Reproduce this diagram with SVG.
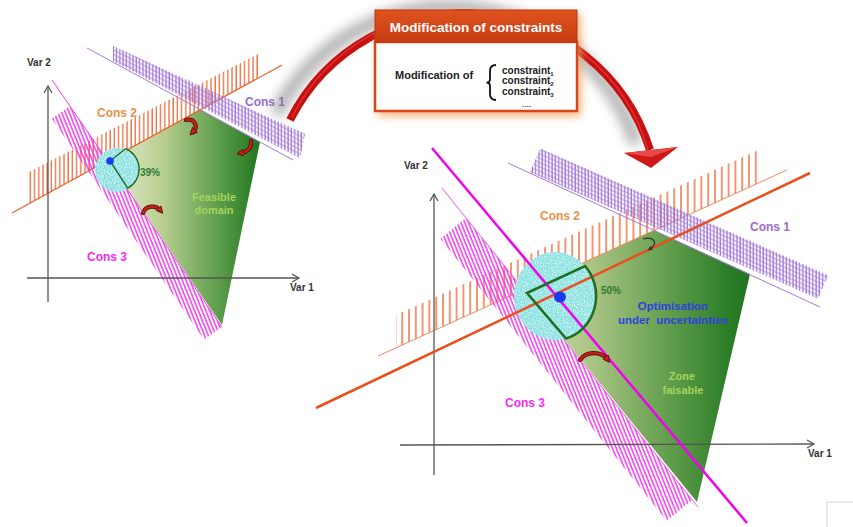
<svg xmlns="http://www.w3.org/2000/svg" width="853" height="527" viewBox="0 0 853 527">
<style>
  text { font-family: "Liberation Sans", Arial, sans-serif; font-weight: bold; }
  .axis { stroke: #555; stroke-width: 1.3; fill: none; }
  .lab { font-size: 10px; fill: #333; }
  .cons1 { fill: #9a6ccc; font-size: 12px; }
  .cons2 { fill: #e8904a; font-size: 12px; }
  .cons3 { fill: #f22cf2; font-size: 12px; }
  .pct { fill: #2e7d32; font-size: 10px; }
  .feas { fill: #a4d45c; font-size: 11px; }
  .sector { fill: none; stroke: #1f6e22; }
  .dot { fill: #1a3cf0; }
  .circ { fill: #84e1e1; }
  .redarr { fill: none; stroke: #c0201a; stroke-width: 2.8; stroke-linecap: round; }
  .redout { fill: none; stroke: #4a0a0a; stroke-width: 4.2; stroke-linecap: round; }
</style>
<defs>
  <pattern id="hOrL" patternUnits="userSpaceOnUse" width="4.2" height="10"><line x1="1" y1="0" x2="1" y2="10" stroke="#ee6a3a" stroke-width="1.3"/></pattern>
  <pattern id="hOrR" patternUnits="userSpaceOnUse" width="6.8" height="10"><line x1="1" y1="0" x2="1" y2="10" stroke="#ee6a3a" stroke-width="1.4"/></pattern>
  <pattern id="hPink" patternUnits="userSpaceOnUse" width="3.5" height="10" patternTransform="rotate(-22)"><line x1="1" y1="0" x2="1" y2="10" stroke="#f030f0" stroke-width="1.4"/></pattern>
  <pattern id="hPurV" patternUnits="userSpaceOnUse" width="3.3" height="10"><line x1="1" y1="0" x2="1" y2="10" stroke="#9a6cd2" stroke-width="1.2"/></pattern>
  <pattern id="hPurL" patternUnits="userSpaceOnUse" width="10" height="4" patternTransform="rotate(27)"><line x1="0" y1="1" x2="10" y2="1" stroke="#a57ddb" stroke-width="0.9"/></pattern>
  <pattern id="hPurR" patternUnits="userSpaceOnUse" width="10" height="4" patternTransform="rotate(24)"><line x1="0" y1="1" x2="10" y2="1" stroke="#a57ddb" stroke-width="0.9"/></pattern>
  <linearGradient id="gL" gradientUnits="userSpaceOnUse" x1="110" y1="0" x2="262" y2="0">
    <stop offset="0" stop-color="#e6edd2"/>
    <stop offset="0.35" stop-color="#b7ce8f"/>
    <stop offset="0.72" stop-color="#5c9c4a"/>
    <stop offset="1" stop-color="#1d741d"/>
  </linearGradient>
  <linearGradient id="gR" gradientUnits="userSpaceOnUse" x1="525" y1="0" x2="752" y2="0">
    <stop offset="0" stop-color="#d4e2b6"/>
    <stop offset="0.3" stop-color="#a9c383"/>
    <stop offset="0.65" stop-color="#5e9c4a"/>
    <stop offset="0.9" stop-color="#2b7d27"/>
    <stop offset="1" stop-color="#1f7420"/>
  </linearGradient>
  <linearGradient id="gHead" x1="0" y1="0" x2="0" y2="1">
    <stop offset="0" stop-color="#e0521f"/>
    <stop offset="1" stop-color="#c83c12"/>
  </linearGradient>
  <filter id="speckle" x="0" y="0" width="1" height="1">
    <feTurbulence type="fractalNoise" baseFrequency="0.9" numOctaves="2" seed="4" result="n"/>
    <feColorMatrix in="n" type="matrix" values="0 0 0 0 1  0 0 0 0 1  0 0 0 0 1  1.8 0 0 0 -0.75" result="w"/>
    <feComposite in="w" in2="SourceGraphic" operator="in" result="ws"/>
    <feMerge><feMergeNode in="SourceGraphic"/><feMergeNode in="ws"/></feMerge>
  </filter>
  <filter id="blur6" x="-20%" y="-20%" width="140%" height="140%"><feGaussianBlur stdDeviation="6"/></filter>
  <filter id="blur4" x="-20%" y="-20%" width="140%" height="140%"><feGaussianBlur stdDeviation="4"/></filter>
  <marker id="mRed" viewBox="0 0 10 10" refX="4" refY="5" markerWidth="2.6" markerHeight="2.6" orient="auto"><path d="M0,0 L10,5 L0,10 z" fill="#c0201a" stroke="#4a0a0a" stroke-width="1"/></marker>
  <marker id="mDark" viewBox="0 0 10 10" refX="4" refY="5" markerWidth="4" markerHeight="4" orient="auto"><path d="M0,0 L10,5 L0,10 z" fill="#333"/></marker>
</defs>

<rect width="853" height="527" fill="#fff"/>

<!-- Left diagram -->
<g id="left-diagram">
  <polygon points="107.6,160.6 200.4,109.7 260,142 222,325" fill="url(#gL)"/>
  <polygon points="27,204.8 260,77.1 260,53 27,173" fill="url(#hOrL)"/>
  <line x1="12" y1="213" x2="282" y2="65" stroke="#e8602a" stroke-width="1.2"/>
  <polygon points="113,46 113,61 300,158 305,134" fill="url(#hPurV)"/>
  <polygon points="113,46 113,61 300,158 305,134" fill="url(#hPurL)"/>
  <line x1="87" y1="48" x2="293" y2="160" stroke="#a67bd8" stroke-width="1"/>
  <polygon points="70,106 222,327 204,339.5 51.9,118.5" fill="url(#hPink)"/>
  <line x1="52" y1="80" x2="222" y2="327" stroke="#f040f0" stroke-width="1"/>
  <polyline class="axis" points="48,302 48,86"/>
  <polyline class="axis" points="44,93 48,86 52,93"/>
  <polyline class="axis" points="27,278 299,278"/>
  <polyline class="axis" points="292,274 299,278 292,282"/>
  <circle class="circ" cx="117" cy="170" r="22" filter="url(#speckle)"/>
  <path class="sector" stroke-width="1.4" d="M110,161 L125.7,148.7 A22,22 0 0 1 127.8,188.2 Z"/>
  <circle class="dot" cx="110" cy="161" r="3.8"/>
  <text class="lab" x="27" y="66">Var 2</text>
  <text class="lab" x="290" y="291">Var 1</text>
  <text class="cons2" x="97" y="117">Cons 2</text>
  <text class="cons1" x="245" y="106">Cons 1</text>
  <text class="cons3" x="87" y="261">Cons 3</text>
  <text class="pct" x="140" y="176">39%</text>
  <text class="feas" x="214" y="200.5" text-anchor="middle">Feasible</text>
  <text class="feas" x="214" y="214" text-anchor="middle">domain</text>
  <path class="redout" d="M186,120 C194,118 199,126 193,132"/>
  <path class="redarr" d="M186,120 C194,118 199,126 193,132" marker-end="url(#mRed)"/>
  <path class="redout" d="M251,141 C252,148 247,152 241,153"/>
  <path class="redarr" d="M251,141 C252,148 247,152 241,153" marker-end="url(#mRed)"/>
  <path class="redout" d="M143,213 C146,205 156,205 160,210"/>
  <path class="redarr" d="M143,213 C146,205 156,205 160,210" marker-end="url(#mRed)"/>
</g>

<!-- Connector: big curved arrow -->
<g id="connectors">
  <path d="M290,120 A195,195 0 0 1 650,150" fill="none" stroke="#777" stroke-width="14" opacity="0.55" filter="url(#blur6)" transform="translate(-14,-6)"/>
  <path d="M290,120 A195,195 0 0 1 650,150" fill="none" stroke="#c81010" stroke-width="8"/>
  <path d="M292,117 A192,192 0 0 1 648,150" fill="none" stroke="#e04040" stroke-width="1.5" opacity="0.7"/>
  <polygon points="624,153 678,147 651,168" fill="#d01818"/>
  <polygon points="624,153 678,147 651,157" fill="#e84848"/>
</g>

<!-- Modification box -->
<g id="modification-box">
  <rect x="378" y="14" width="203" height="102" fill="#f4a460" opacity="0.85" filter="url(#blur4)"/>
  <rect x="375" y="42" width="202" height="69" fill="#fff" stroke="#d6451b" stroke-width="2.5"/>
  <rect x="375" y="10" width="202" height="32" fill="url(#gHead)" stroke="#b5380f" stroke-width="1"/>
  <text x="476" y="31.5" text-anchor="middle" font-size="13.5" fill="#fff">Modification of constraints</text>
  <text x="395" y="79" font-size="11" fill="#222">Modification of</text>
  <path d="M496,65 Q490,65 490,71 L490,79 Q490,82.5 486.5,82.5 Q490,82.5 490,86 L490,94 Q490,100 496,100" fill="none" stroke="#111" stroke-width="1.8"/>
  <text x="502" y="73.5" font-size="10" fill="#222">constraint<tspan font-size="6" dy="2">1</tspan></text>
  <text x="502" y="83.5" font-size="10" fill="#222">constraint<tspan font-size="6" dy="2">2</tspan></text>
  <text x="502" y="94.5" font-size="10" fill="#222">constraint<tspan font-size="6" dy="2">3</tspan></text>
  <text x="522" y="107" font-size="8" fill="#444">....</text>
</g>

<!-- Right diagram -->
<g id="right-diagram">
  <polygon points="523.7,289.8 654,230.3 750,274 697,502" fill="url(#gR)"/>
  <polygon points="396,347.9 758,183.2 758,150.2 396,314.9" fill="url(#hOrR)"/>
  <line x1="378" y1="356" x2="787" y2="170" stroke="#f08a60" stroke-width="1"/>
  <polygon points="530,172 818,298.7 828.3,275.3 540.3,148.6" fill="url(#hPurV)"/>
  <polygon points="530,172 818,298.7 828.3,275.3 540.3,148.6" fill="url(#hPurR)"/>
  <line x1="508" y1="163" x2="820" y2="307" stroke="#a67bd8" stroke-width="1"/>
  <polygon points="466,218 692.4,500 666.7,520.7 440.3,238.7" fill="url(#hPink)"/>
  <line x1="442" y1="188" x2="698" y2="507" stroke="#f050f0" stroke-width="1"/>
  <polyline class="axis" points="434,475 434,194"/>
  <polyline class="axis" points="430,201 434,194 438,201"/>
  <polyline class="axis" points="400,445 814,444"/>
  <polyline class="axis" points="807,440 814,444 807,448"/>
  <ellipse class="circ" cx="555" cy="296" rx="41" ry="44" filter="url(#speckle)"/>
  <line x1="316" y1="408" x2="810" y2="173" stroke="#e8501e" stroke-width="2.5"/>
  <line x1="432" y1="148" x2="747" y2="523" stroke="#f000f0" stroke-width="2.5"/>
  <path class="sector" stroke-width="2.6" d="M527,293 L585,266 A41,44 0 0 1 566,338.5 Z"/>
  <ellipse class="dot" cx="560" cy="297" rx="6" ry="5.5"/>
  <text class="lab" x="404" y="169">Var 2</text>
  <text class="lab" x="808" y="457">Var 1</text>
  <text class="cons2" x="540" y="220" font-size="12.5">Cons 2</text>
  <text class="cons1" x="750" y="231" font-size="12.5">Cons 1</text>
  <text class="cons3" x="505" y="407" font-size="12.5">Cons 3</text>
  <text class="pct" x="601" y="294">50%</text>
  <text x="673" y="310" text-anchor="middle" font-size="11.5" fill="#3040e0">Optimisation</text>
  <text x="673" y="324" text-anchor="middle" font-size="11.5" fill="#3040e0" style="white-space:pre">under  uncertainties</text>
  <text class="feas" x="682" y="380" text-anchor="middle">Zone</text>
  <text class="feas" x="683" y="394" text-anchor="middle">faisable</text>
  <path class="redout" d="M580,360 C586,351 601,351 607,359" stroke-width="5"/>
  <path class="redarr" d="M580,360 C586,351 601,351 607,359" stroke-width="3.6" marker-end="url(#mRed)"/>
  <path d="M643,239 C652,236 660,242 650,249" fill="none" stroke="#333" stroke-width="1.2" marker-end="url(#mDark)"/>
</g>

<rect x="827" y="502" width="30" height="30" fill="#fff" stroke="#d8d8d8" stroke-width="1"/>
</svg>
